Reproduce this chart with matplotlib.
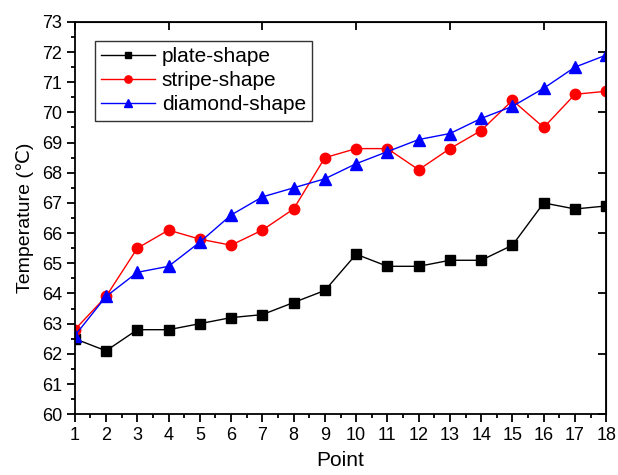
import matplotlib
matplotlib.use("Agg")
import matplotlib.pyplot as plt
from matplotlib.ticker import MultipleLocator

plt.rcParams['font.family'] = ['Liberation Sans', 'DejaVu Sans']

# data
points = list(range(1, 19))
plate = [62.5, 62.1, 62.8, 62.8, 63.0, 63.2, 63.3, 63.7, 64.1, 65.3, 64.9, 64.9, 65.1, 65.1, 65.6, 67.0, 66.8, 66.9]
stripe = [62.8, 63.9, 65.5, 66.1, 65.8, 65.6, 66.1, 66.8, 68.5, 68.8, 68.8, 68.1, 68.8, 69.4, 70.4, 69.5, 70.6, 70.7]
diamond = [62.6, 63.9, 64.7, 64.9, 65.7, 66.6, 67.2, 67.5, 67.8, 68.3, 68.7, 69.1, 69.3, 69.8, 70.2, 70.8, 71.5, 71.9]

fig = plt.figure(figsize=(6.18, 4.75), dpi=100)
ax = fig.add_axes([0.121, 0.128, 0.86, 0.826])

ax.plot(points, plate, color='black', lw=1, marker='s', ms=7, label='plate-shape')
ax.plot(points, stripe, color='red', lw=1, marker='o', ms=7.5, label='stripe-shape')
ax.plot(points, diamond, color='blue', lw=1, marker='^', ms=8, label='diamond-shape')

ax.set_xlim(1, 18)
ax.set_ylim(60, 73)
ax.xaxis.set_major_locator(MultipleLocator(1))
ax.xaxis.set_minor_locator(MultipleLocator(0.5))
ax.yaxis.set_major_locator(MultipleLocator(1))
ax.yaxis.set_minor_locator(MultipleLocator(0.5))
ax.tick_params(which='both', direction='out', labelsize=13, width=1.3)
ax.tick_params(which='major', length=6, pad=3)
ax.tick_params(which='minor', length=3)

# top and right ticks pointing inward, no labels
top = ax.secondary_xaxis('top')
top.set_xticks(range(1, 19, 3))
top.tick_params(direction='in', length=6, width=1.3, labeltop=False)
right = ax.secondary_yaxis('right')
right.set_yticks(range(60, 74, 2))
right.tick_params(direction='in', length=6, width=1.3, labelright=False)

for s in ax.spines.values():
    s.set_linewidth(1.3)

ax.set_xlabel('Point', fontsize=15, labelpad=5)
ax.set_ylabel('Temperature (\u2103)', fontsize=14, labelpad=6)

leg = ax.legend(loc='upper left', bbox_to_anchor=(0.038, 0.952), fontsize=15,
                fancybox=False, edgecolor='black', handlelength=2.6,
                handletextpad=0.3, labelspacing=0.25, borderpad=0.3,
                markerscale=0.7, borderaxespad=0)
leg.get_frame().set_linewidth(1)

fig.savefig('out.png', dpi=100)
